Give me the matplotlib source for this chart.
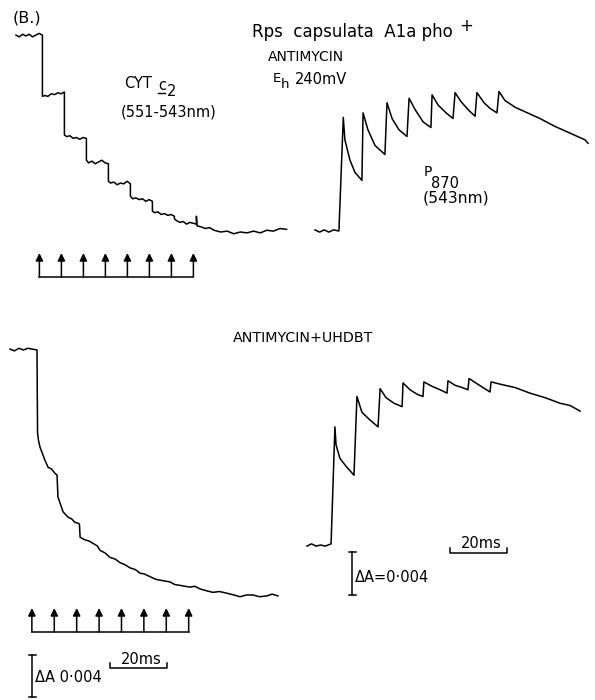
import matplotlib
matplotlib.use("Agg")
import matplotlib.pyplot as plt
from matplotlib.transforms import blended_transform_factory, offset_copy

W, H = 595, 700

# flash times (ms), one per arrow
flash_top = [12, 22, 32, 42, 52, 62, 72, 82]
flash_bottom = [12, 22, 32, 42, 52, 62, 72, 82]

# Antimycin: cyt c2 (551-543nm), time in ms, dA in units of 0.001
cyt1_t = [0, 1.5, 3, 4.5, 6, 7.5, 9, 10.5, 12,
          12, 13, 14.5, 16, 17.5, 19, 20.5, 22,
          22, 23, 24.5, 26, 27.5, 29, 30.5, 32,
          32, 33, 34.5, 36, 37.5, 39, 40.5, 42,
          42, 43, 44.5, 46, 47.5, 49, 50.5, 52,
          52, 53, 54.5, 56, 57.5, 59, 60.5, 62,
          62, 63, 64.5, 66, 67.5, 69, 70.5, 72,
          72, 73, 74.5, 76, 77.5, 79, 80.5, 82,
          82, 82.3, 84, 86, 88, 90, 93, 96, 99, 102, 105, 108, 111, 114, 117, 120, 123]
cyt1_a = [0.1, -0.1, 0.2, 0.0, 0.2, -0.1, 0.1, 0.3, 0.1,
          -6.9, -6.8, -6.9, -6.6, -6.7, -6.5, -6.6, -6.4,
          -11.3, -11.5, -11.4, -11.7, -11.6, -11.8, -11.6, -11.7,
          -14.2, -14.5, -14.3, -14.6, -14.4, -14.2, -14.5, -14.6,
          -16.6, -16.8, -16.7, -17.0, -16.8, -16.9, -16.6, -16.9,
          -18.3, -18.6, -18.5, -18.7, -18.6, -18.9, -18.7, -18.9,
          -20.0, -20.2, -20.1, -20.4, -20.3, -20.5, -20.4, -20.6,
          -20.9, -21.1, -21.3, -21.2, -21.5, -21.3, -21.4, -21.5,
          -20.6, -21.7, -21.8, -22.0, -21.9, -22.2, -22.4, -22.3, -22.6, -22.4,
          -22.5, -22.3, -22.5, -22.2, -22.3, -22.0, -22.1]

# Antimycin: P870 (543nm)
p1_t = [0, 2, 4, 6, 8, 10.4, 12.3, 13.0, 15.2, 17.4, 20.4,
        20.9, 23.0, 26.1, 30.4,
        31.3, 33.5, 36.5, 40.0,
        40.9, 43.5, 47.0, 50.4,
        50.9, 53.5, 57.0, 60.0,
        60.9, 63.5, 66.5, 69.6,
        70.4, 73.5, 76.1, 79.1,
        80.0, 82.6, 87.0, 91.3, 97.8, 104.3, 110.9, 117.4, 118.7]
p1_a = [0.1, -0.1, 0.1, -0.1, 0.1, 0.0, 10.1, 8.1, 6.3, 5.2, 4.5,
        10.5, 9.0, 7.6, 6.8,
        11.4, 10.0, 9.0, 8.4,
        11.8, 10.8, 9.7, 9.2,
        12.1, 11.2, 10.5, 10.0,
        12.3, 11.5, 10.8, 10.2,
        12.3, 11.4, 10.9, 10.5,
        12.4, 11.6, 11.0, 10.6, 10.0, 9.3, 8.7, 8.1, 7.8]

# Antimycin + UHDBT: cyt c2
cyt2_t = [0, 2, 4, 6, 8, 10, 12.05,
          12.3, 12.7, 13.4, 15.6, 17.0, 18.5, 20.1, 21.0,
          21.4, 22.5, 23.7, 25.9, 27.5, 29.0, 30.4, 31.0,
          31.3, 33.5, 35, 37.1, 39, 40.2, 42.5, 44.6, 47, 49.1, 51, 53.6, 56, 58.0,
          60, 62.5, 65, 67.0, 69, 71.4, 73.5, 75.9, 78, 80.4, 82.5, 84.8, 87.5,
          90.6, 93.5, 96.9, 100, 102.7, 105.5, 108.5, 111.5, 114.7, 117, 119.6]
cyt2_a = [0.1, -0.1, 0.2, 0.0, 0.2, 0.1, 0.0,
          -9.5, -10.3, -11.1, -12.6, -13.4, -13.6, -14.1, -14.3,
          -16.8, -17.6, -18.5, -19.1, -19.3, -19.7, -19.8, -19.9,
          -21.4, -21.7, -21.8, -22.1, -22.4, -22.9, -23.2, -23.7, -23.9, -24.3, -24.5, -24.9, -25.1, -25.5,
          -25.6, -25.9, -26.2, -26.3, -26.4, -26.5, -26.8, -26.9, -27.0, -27.1, -27.0, -27.3, -27.5,
          -27.7, -27.6, -27.8, -28.0, -28.2, -28.0, -28.0, -28.2, -28.1, -27.9, -28.1]

# Antimycin + UHDBT: P870
p2_t = [0, 2, 4, 6, 8, 10.6, 12.3, 12.8, 14.5, 17.2, 20.7,
        22.0, 24.2, 27.8, 31.3,
        32.2, 34.8, 38.3, 41.9,
        42.3, 45.4, 48.5, 51.1,
        51.5, 55.1, 58.6, 61.7,
        62.1, 65.2, 68.3, 70.9,
        71.4, 74.4, 77.5, 80.6,
        81.1, 85.0, 91.6, 98.2, 104.8, 111.5, 115.9, 120.3]
p2_a = [-0.1, 0.1, -0.1, 0.0, -0.1, 0.1, 10.5, 8.9, 7.7, 7.0, 6.2,
        13.2, 11.8, 11.1, 10.5,
        13.9, 13.1, 12.6, 12.3,
        14.4, 13.8, 13.4, 13.2,
        14.5, 14.1, 13.8, 13.5,
        14.6, 14.2, 14.0, 13.8,
        14.8, 14.4, 14.0, 13.6,
        14.5, 14.3, 14.0, 13.5, 13.1, 12.6, 12.4, 11.9]

plt.rcParams["font.family"] = ["DejaVu Sans"]

fig = plt.figure(figsize=(W / 100, H / 100), dpi=100)

# overlay in pixel units for labels and scale bars
ov = fig.add_axes([0, 0, 1, 1])
ov.set_xlim(0, W)
ov.set_ylim(H, 0)
ov.axis("off")


def trace_axes(x0, y0, px_ms, px_ma):
    # full-figure axes whose origin (t=0, dA=0) sits at pixel (x0, y0)
    ax = fig.add_axes([0, 0, 1, 1])
    ax.set_xlim(-x0 / px_ms, (W - x0) / px_ms)
    ax.set_ylim(-(H - y0) / px_ma, y0 / px_ma)
    ax.axis("off")
    ax.patch.set_visible(False)
    return ax


ax_tl = trace_axes(16, 36, 2.2, 8.75)
ax_tr = trace_axes(315, 231, 2.3, 11.25)
ax_bl = trace_axes(10, 350, 2.24, 8.75)
ax_br = trace_axes(307, 545, 2.27, 11.25)

lw = 1.1
ax_tl.plot(cyt1_t, cyt1_a, color="black", lw=lw)
ax_tr.plot(p1_t, p1_a, color="black", lw=lw)
ax_bl.plot(cyt2_t, cyt2_a, color="black", lw=lw)
ax_br.plot(p2_t, p2_a, color="black", lw=lw)


def flash_arrows(ax, flashes, y_tip, y_base, dx):
    tr = blended_transform_factory(ax.transData, ov.transData)
    tr = offset_copy(tr, fig=fig, x=dx, y=0, units="dots")
    for t in flashes:
        ov.annotate("", xy=(t, y_tip), xycoords=tr, xytext=(t, y_base), textcoords=tr,
                    arrowprops=dict(arrowstyle="-|>,head_length=0.45,head_width=0.22",
                                    color="black", lw=1.1, shrinkA=0, shrinkB=0))
    ov.plot([flashes[0], flashes[-1]], [y_base, y_base], color="black", lw=1.1, transform=tr)


flash_arrows(ax_tl, flash_top, 253, 277, -3)
flash_arrows(ax_bl, flash_bottom, 608, 632, -5)


def delta_a_bar(x, y1, y2):
    ov.plot([x, x], [y1, y2], color="black", lw=1.1)
    ov.plot([x - 3.5, x + 3.5], [y1, y1], color="black", lw=1.1)
    ov.plot([x - 3.5, x + 3.5], [y2, y2], color="black", lw=1.1)


def time_bar(x1, x2, y):
    ov.plot([x1, x1, x2, x2], [y - 5, y, y, y - 5], color="black", lw=1.1)


# scale bars
delta_a_bar(32, 655, 697)
ov.text(35, 677, "ΔA 0·004", fontsize=10.5, va="center", ha="left")
time_bar(110, 167, 668)
ov.text(141, 660, "20ms", fontsize=10.5, va="center", ha="center")

delta_a_bar(352, 552, 595)
ov.text(355, 577, "ΔA=0·004", fontsize=10.5, va="center", ha="left")
time_bar(450, 507, 553)
ov.text(481, 544, "20ms", fontsize=10.5, va="center", ha="center")

# labels
ov.text(13, 18, "(B.)", fontsize=11.5, va="center", ha="left")
ov.text(252, 37, "Rps  capsulata  A1a pho", fontsize=12, va="baseline", ha="left")
ov.text(466, 26, "+", fontsize=12, va="center", ha="center")
ov.text(268, 57, "ANTIMYCIN", fontsize=10, va="center", ha="left")
ov.text(273, 79, "E", fontsize=9.5, va="center", ha="left")
ov.text(281, 84, "h", fontsize=9.5, va="center", ha="left")
ov.text(295, 80, "240mV", fontsize=10.5, va="center", ha="left")

ov.text(124, 84, "CYT", fontsize=10.5, va="center", ha="left")
ov.text(158, 85, "c", fontsize=10.5, va="center", ha="left")
ov.text(167, 91, "2", fontsize=10.5, va="center", ha="left")
ov.plot([158, 165], [93, 93], color="black", lw=1.0)
ov.text(121, 112, "(551-543nm)", fontsize=10.5, va="center", ha="left")

ov.text(424, 172, "P", fontsize=10, va="center", ha="left")
ov.text(431, 183, "870", fontsize=10.5, va="center", ha="left")
ov.text(423, 198, "(543nm)", fontsize=11.2, va="center", ha="left")

ov.text(233, 338, "ANTIMYCIN+UHDBT", fontsize=10.3, va="center", ha="left")

fig.savefig("out.png", dpi=100, facecolor="white")
